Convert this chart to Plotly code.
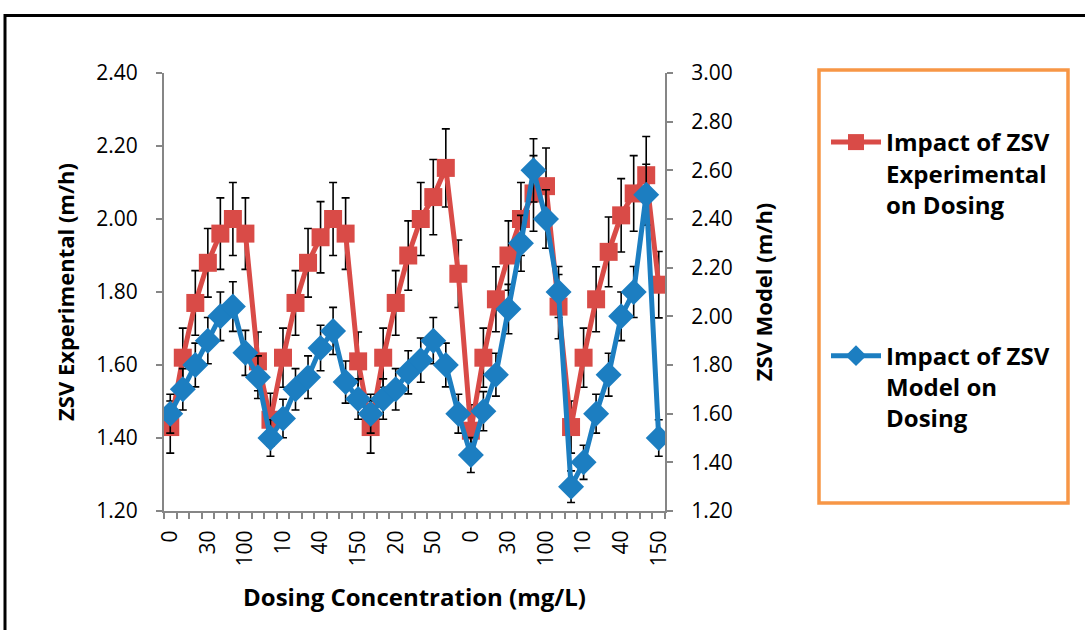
import plotly.graph_objects as go

# ---- data ----
dosing = [0, 10, 20, 30, 40, 50, 100, 150,
          0, 10, 20, 30, 40, 50, 100, 150,
          0, 10, 20, 30, 40, 50, 100, 150,
          0, 10, 20, 30, 40, 50, 100, 150,
          0, 10, 20, 30, 40, 50, 100, 150]
zsv_exp = [1.43, 1.62, 1.77, 1.88, 1.96, 2.00, 1.96, 1.61,
           1.45, 1.62, 1.77, 1.88, 1.95, 2.00, 1.96, 1.61,
           1.43, 1.62, 1.77, 1.90, 2.00, 2.06, 2.14, 1.85,
           1.42, 1.62, 1.78, 1.90, 2.00, 2.07, 2.09, 1.76,
           1.43, 1.62, 1.78, 1.91, 2.01, 2.07, 2.12, 1.82]
zsv_model = [1.60, 1.70, 1.80, 1.90, 2.00, 2.04, 1.85, 1.75,
             1.50, 1.58, 1.70, 1.75, 1.87, 1.94, 1.73, 1.66,
             1.60, 1.66, 1.70, 1.77, 1.82, 1.90, 1.80, 1.60,
             1.43, 1.61, 1.76, 2.03, 2.30, 2.60, 2.40, 2.10,
             1.30, 1.40, 1.60, 1.76, 2.00, 2.10, 2.50, 1.50]
err_pct = 5
label_step = 3

# ---- layout geometry (px) ----
W, H = 1085, 630
PL, PR, PT, PB = 164, 665, 73, 511


def px_x(p):
    return (p - PL) / (PR - PL)


def px_y(p):
    return (PB - p) / (PB - PT)


idx = list(range(len(dosing)))
tick_idx = idx[::label_step]
tick_txt = [str(dosing[i]) for i in tick_idx]

RED = "#D94B47"
BLUE = "#1C7EC1"
AXIS = "#868686"
FONT = "Open Sans"

fig = go.Figure()
fig.add_trace(go.Scatter(
    x=idx, y=zsv_exp, mode="lines+markers",
    name="Impact of ZSV<br>Experimental<br>on Dosing",
    legendgroup="a",
    line=dict(color=RED, width=5),
    marker=dict(symbol="square", size=18, color=RED),
    error_y=dict(type="percent", value=err_pct, color="black", thickness=1.6, width=4),
))
fig.add_trace(go.Scatter(
    x=idx, y=zsv_model, mode="lines+markers", yaxis="y2",
    name="Impact of ZSV<br>Model on<br>Dosing",
    legendgroup="b",
    line=dict(color=BLUE, width=5),
    marker=dict(symbol="diamond", size=20, color=BLUE),
    error_y=dict(type="percent", value=err_pct, color="black", thickness=1.6, width=4),
))

fig.update_layout(
    width=W, height=H,
    margin=dict(l=PL, r=W - PR, t=PT, b=H - PB, pad=0),
    paper_bgcolor="white", plot_bgcolor="white",
    font=dict(family=FONT, color="black", size=21),
    showlegend=True,
    legend=dict(
        x=px_x(826), y=px_y(120), xanchor="left", yanchor="top",
        font=dict(family=FONT, size=24, weight="bold", color="black"),
        bgcolor="rgba(0,0,0,0)", borderwidth=0,
        valign="top", traceorder="grouped", tracegroupgap=117,
        itemwidth=50,
    ),
    xaxis=dict(
        range=[-0.5, len(idx) - 0.5],
        tickmode="array", tickvals=tick_idx, ticktext=tick_txt,
        tickangle=-90, ticks="", showgrid=False, zeroline=False,
        showline=True, linecolor=AXIS, linewidth=2,
        tickfont=dict(size=21, family=FONT),
        ticklabelstandoff=9,
        minor=dict(tickmode="array", tickvals=[i - 0.5 for i in range(len(idx) + 1)],
                   ticks="outside", ticklen=6, tickcolor=AXIS, tickwidth=1.5, showgrid=False),
        title=dict(text="Dosing Concentration (mg/L)",
                   font=dict(size=24, weight="bold", family=FONT), standoff=24),
    ),
    yaxis=dict(
        range=[1.2, 2.4], dtick=0.2, tickformat=".2f",
        ticks="outside", ticklen=6, tickcolor=AXIS, tickwidth=1.5,
        showline=True, linecolor=AXIS, linewidth=2, showgrid=False, zeroline=False,
        tickfont=dict(size=21, family=FONT), ticklabelstandoff=14,
        title=dict(text="ZSV Experimental (m/h)",
                   font=dict(size=22, weight="bold", family=FONT), standoff=16),
    ),
    yaxis2=dict(
        range=[1.2, 3.0], dtick=0.2, tickformat=".2f",
        overlaying="y", side="right", anchor="x",
        ticks="outside", ticklen=6, tickcolor=AXIS, tickwidth=1.5,
        showline=True, linecolor=AXIS, linewidth=2, showgrid=False, zeroline=False,
        tickfont=dict(size=21, family=FONT), ticklabelstandoff=14,
        title=dict(text="ZSV Model (m/h)",
                   font=dict(size=22, weight="bold", family=FONT), standoff=25),
    ),
    shapes=[
        # outer black frame
        dict(type="rect", xref="paper", yref="paper",
             x0=px_x(5), x1=px_x(1095), y0=px_y(645), y1=px_y(15.5),
             line=dict(color="black", width=3), fillcolor="rgba(0,0,0,0)", layer="below"),
        # legend frame (orange)
        dict(type="rect", xref="paper", yref="paper",
             x0=px_x(819), x1=px_x(1068), y0=px_y(503), y1=px_y(70),
             line=dict(color="#F79646", width=3.5), fillcolor="rgba(0,0,0,0)"),
    ],
)

fig.write_html("out.html")
